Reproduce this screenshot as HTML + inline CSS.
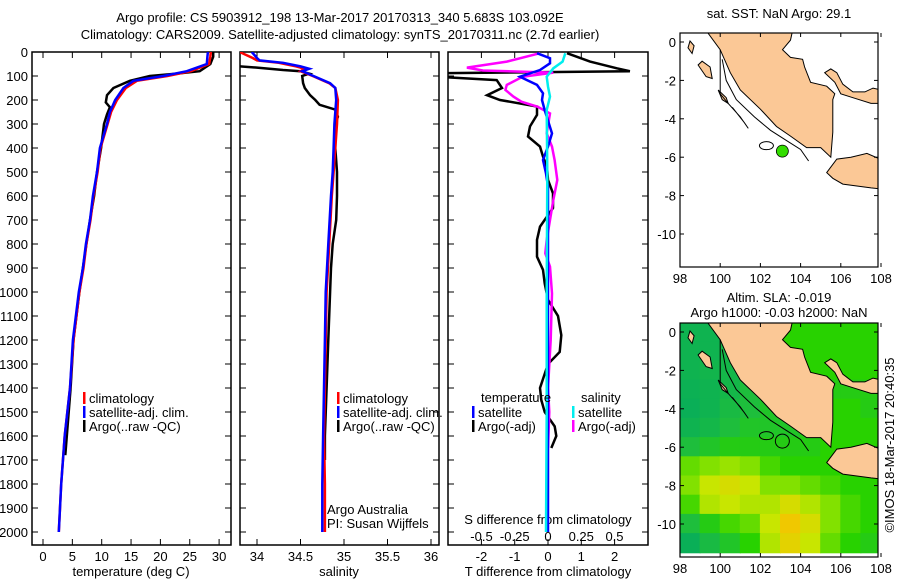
<!DOCTYPE html>
<html><head><meta charset="utf-8"><style>
body{margin:0;background:#fff}
svg{display:block;font-family:"Liberation Sans",sans-serif;font-size:13px}
</style></head><body>
<svg id="c" width="900" height="580" viewBox="0 0 900 580">
<text x="340" y="22" text-anchor="middle">Argo profile: CS 5903912_198 13-Mar-2017 20170313_340 5.683S 103.092E</text>
<text x="340" y="39" text-anchor="middle">Climatology: CARS2009. Satellite-adjusted climatology: synTS_20170311.nc (2.7d earlier)</text>
<g id="g"></g>
<text transform="translate(894,445) rotate(-90)" text-anchor="middle">©IMOS 18-Mar-2017 20:40:35</text>
</svg>
<script>
// ---- temperature panel data ----
const tDepth=[0,20,50,80,100,120,150,200,250,300,400,500,600,700,800,900,1000,1200,1400,1600,1800,2000];
const tSat=[28.1,28.0,27.9,24.5,20.5,15.4,13.7,12.3,11.4,10.9,9.7,9.2,8.5,8.0,7.3,6.8,6.1,5.1,4.6,3.7,3.1,2.7];
const tClim=[28.6,28.5,28.3,25.2,21.2,16.0,14.1,12.6,11.6,11.0,9.8,9.3,8.6,8.1,7.4,6.9,6.2,5.2,4.6,3.7,3.1,2.7];
const argoTDepth=[0,20,50,80,90,100,120,150,180,210,230,260,300,400,500,600,700,800,1000,1200,1400,1680];
const tArgo=[29.0,29.0,28.5,26.7,22.8,18.2,14.8,12.0,10.9,10.7,11.4,10.9,10.4,9.9,9.2,8.7,8.0,7.4,6.2,5.2,4.7,3.8];
const tTicks=[0,5,10,15,20,25,30];
const depthTicks=[0,100,200,300,400,500,600,700,800,900,1000,1100,1200,1300,1400,1500,1600,1700,1800,1900,2000];
// ---- salinity panel data ----
const sDepth=[0,25,35,45,60,70,80,100,130,150,200,300,400,500,600,800,1000,1200,1400,1600,1800,2000];
const sSat=[33.94,34.0,34.03,34.3,34.5,34.6,34.52,34.65,34.84,34.9,34.91,34.89,34.88,34.87,34.85,34.82,34.79,34.78,34.77,34.76,34.75,34.75];
const sClim=[33.8,33.95,34.0,34.25,34.45,34.55,34.5,34.64,34.83,34.9,34.93,34.92,34.9,34.88,34.86,34.83,34.8,34.79,34.78,34.77,34.78,34.78];
const argoSDepth=[60,65,75,80,90,100,130,150,180,200,220,240,270,300,400,500,600,700,800,900,1000,1200,1400,1600,1700];
const sArgo=[33.8,34.0,34.3,34.5,34.6,34.52,34.53,34.55,34.61,34.67,34.72,34.9,34.93,34.9,34.9,34.92,34.92,34.91,34.87,34.85,34.84,34.82,34.8,34.78,34.78];
const sTicks=[34,34.5,35,35.5,36];
// ---- difference panel data ----
const dTArgoDepth=[5,40,68,80,88,105,117,150,180,200,227,262,310,352,394,436,478,533,589,650,728,783,853,908,964,1033,1100,1180,1250,1300,1400,1450,1500,1560,1600,1650];
const dTArgo=[0.57,1.26,2.07,2.46,-3.1,-3.1,-1.54,-1.38,-1.83,-1.44,-0.33,-0.33,-0.54,-0.6,-0.24,-0.15,-0.03,0,0.15,0.15,-0.24,-0.33,-0.33,-0.15,-0.1,0,0.3,0.4,0.35,0,-0.24,-0.2,-0.1,0.2,0.25,0.1];
const dTSatDepth=[5,26,47,75,103,117,137,172,200,242,339,394,450,506,561,800,1200,1600,2000];
const dTSat=[-0.33,0.06,0.06,-0.24,-0.84,-0.63,-0.33,-0.15,-0.18,-0.1,0.12,0,-0.15,-0.06,0,0,0,0,0];
const dSArgoDepth=[5,40,65,77,86,103,137,158,186,207,228,256,339,394,450,533,617,700,783,839,894,1006,1200,1400,1500,1650];
const dSArgo=[-0.06,-0.31,-0.61,-0.49,0.04,-0.19,-0.31,-0.32,-0.26,-0.2,-0.08,0.015,-0.01,0.03,0.05,0.07,0.04,0.015,-0.01,-0.02,0.015,0.03,0.02,0.0,0.01,0.0];
const dSSatDepth=[5,40,68,103,144,186,242,500,1000,1500,2000];
const dSSat=[0.13,0.11,0.04,-0.01,0,0.015,-0.01,-0.005,-0.01,-0.01,-0.015];
const dTTicks=[-2,-1,0,1,2];
const dSTicks=[-0.5,-0.25,0,0.25,0.5];
const dSTickLabels=["-0.5","-0.25","0","0.25","0.5"];
// ---- maps ----
const lonTicks=[98,100,102,104,106,108];
const latTicks=[0,-2,-4,-6,-8,-10];
const argoLon=103.092, argoLat=-5.683;
const slaRows=[
[0.15,0.15,0.2,0.3,0.4,0.45,0.45,0.45,0.45,0.45],
[0.15,0.15,0.2,0.3,0.4,0.45,0.45,0.45,0.45,0.45],
[0.15,0.18,0.2,0.3,0.35,0.4,0.45,0.45,0.45,0.45],
[0.12,0.15,0.2,0.3,0.35,0.35,0.4,0.4,0.4,0.4],
[0.1,0.15,0.25,0.3,0.35,0.35,0.4,0.45,0.45,0.4],
[0.15,0.2,0.3,0.35,0.35,0.35,0.4,0.45,0.45,0.45],
[0.3,0.35,0.4,0.4,0.4,0.4,0.4,0.45,0.45,0.45],
[0.55,0.6,0.65,0.6,0.5,0.45,0.45,0.45,0.45,0.45],
[0.6,0.75,0.8,0.75,0.6,0.6,0.55,0.5,0.45,0.45],
[0.5,0.7,0.75,0.7,0.7,0.8,0.7,0.6,0.5,0.45],
[0.3,0.4,0.5,0.55,0.75,0.9,0.8,0.6,0.5,0.45],
[0.1,0.25,0.35,0.45,0.7,0.85,0.75,0.55,0.45,0.4]];
const sumatra=[[99.3,0.6],[100.0,-0.4],[100.5,-1.6],[101,-2.5],[102,-3.5],[102.8,-4.4],[103.5,-4.9],[104.3,-5.5],[105,-5.5],[105.5,-6],[105.6,-4.7],[105.6,-3],[105.7,-2.7],[105.3,-2.3],[104.5,-2.1],[104.2,-1.3],[104.1,-0.9],[103.5,-0.8],[103.1,-0.4],[103.5,0.1],[103.6,0.6]];
const java=[[105.3,-6.8],[105.8,-6.1],[106.5,-6],[107.3,-5.8],[108.4,-6.3],[108.4,-7.7],[107.5,-7.6],[106.1,-7.4],[105.6,-7.1]];
const bangka=[[105.2,-1.6],[105.5,-1.4],[105.8,-1.6],[106.1,-2.2],[106.6,-2.6],[107.2,-2.6],[107.6,-2.4],[108.4,-2.6],[108.4,-3.2],[107.5,-3.2],[106.6,-2.9],[106.0,-2.7],[105.7,-2.1]];
const nias=[[99.1,-1.0],[99.5,-1.3],[99.6,-1.9],[99.3,-1.8],[98.9,-1.2]];
const simeulue=[[98.5,0.05],[98.7,-0.2],[98.6,-0.6],[98.4,-0.3]];
const siberut=[[99.9,-2.5],[100.3,-2.9],[100.4,-3.2],[100.1,-3.0]];
const shelf1=[[100,-0.4],[100,-2.7],[100.4,-3.2],[101.0,-3.9],[101.4,-4.5],[101.2,-4.2],[100.6,-3.4]];
const shelf2=[[100.1,-0.9],[100.3,-2.0],[100.8,-3.0],[101.7,-3.9],[102.5,-4.6],[103.4,-5.2],[104.0,-5.6],[104.4,-6.2]];

const NS="http://www.w3.org/2000/svg";
const G=document.getElementById('g');
function mk(t,a,p){const e=document.createElementNS(NS,t);for(const k in a)e.setAttribute(k,a[k]);(p||G).appendChild(e);return e;}
function txt(x,y,s,anchor,p){const e=mk('text',{x:x,y:y,'text-anchor':anchor||'start'},p);e.textContent=s;return e;}

const yD=d=>52+d*0.24;
function panel(x0,x1,name){
  const r=mk('rect',{x:x0,y:52,width:x1-x0,height:493,fill:'none',stroke:'#000','stroke-width':1.5});
  
  
  const cp=mk('clipPath',{id:'cp'+name});mk('rect',{x:x0,y:52,width:x1-x0,height:493},cp);
}
function line(xs,ds,fx,color,name,clip,w){
  const pts=xs.map((v,i)=>fx(v).toFixed(1)+','+yD(ds[i]).toFixed(1)).join(' ');
  const e=mk('polyline',{points:pts,fill:'none',stroke:color,'stroke-width':w||2.5,'clip-path':'url(#cp'+clip+')'});
  
  
}
// panel 1
const xT=t=>43+t*5.87;
panel(32,231,'temperature-panel');
depthTicks.forEach(d=>{mk('line',{x1:32,x2:38,y1:yD(d),y2:yD(d),stroke:'#000'});mk('line',{x1:225,x2:231,y1:yD(d),y2:yD(d),stroke:'#000'});
  const t=txt(28,yD(d)+5,String(d),'end');});
tTicks.forEach(v=>{mk('line',{x1:xT(v),x2:xT(v),y1:545,y2:539,stroke:'#000'});mk('line',{x1:xT(v),x2:xT(v),y1:52,y2:58,stroke:'#000'});
  const t=txt(xT(v),561,String(v),'middle');});
txt(131,576,'temperature (deg C)','middle');
line(tArgo,argoTDepth,xT,'#000','argo-temperature-line','temperature-panel');
line(tClim,tDepth,xT,'#f00','climatology-temperature-line','temperature-panel');
line(tSat,tDepth,xT,'#00f','satellite-temperature-line','temperature-panel');
function legend(x,y,items,name){const g=mk('g',{});
  items.forEach((it,i)=>{mk('rect',{x:x,y:y+i*14-6,width:2.5,height:12,fill:it[0]},g);txt(x+6,y+i*14+5,it[1],'start',g);});}
legend(83,398,[['#f00','climatology'],['#00f','satellite-adj. clim.'],['#000','Argo(..raw -QC)']],'temperature-legend');
// panel 2
const xS=s=>257+(s-34)*87;
panel(240,439,'salinity-panel');
depthTicks.forEach(d=>{mk('line',{x1:240,x2:246,y1:yD(d),y2:yD(d),stroke:'#000'});mk('line',{x1:433,x2:439,y1:yD(d),y2:yD(d),stroke:'#000'});});
sTicks.forEach(v=>{mk('line',{x1:xS(v),x2:xS(v),y1:545,y2:539,stroke:'#000'});mk('line',{x1:xS(v),x2:xS(v),y1:52,y2:58,stroke:'#000'});
  const t=txt(xS(v),561,String(v),'middle');});
txt(339,576,'salinity','middle');
line(sArgo,argoSDepth,xS,'#000','argo-salinity-line','salinity-panel');
line(sClim,sDepth,xS,'#f00','climatology-salinity-line','salinity-panel');
line(sSat,sDepth,xS,'#00f','satellite-salinity-line','salinity-panel');
legend(337,398,[['#f00','climatology'],['#00f','satellite-adj. clim.'],['#000','Argo(..raw -QC)']],'salinity-legend');
txt(327,514,'Argo Australia');
txt(327,528,'PI: Susan Wijffels');
// panel 3
const xDT=t=>548+t*33.3, xDS=s=>548+s*133;
panel(448,648,'difference-panel');
depthTicks.forEach(d=>{mk('line',{x1:448,x2:454,y1:yD(d),y2:yD(d),stroke:'#000'});mk('line',{x1:642,x2:648,y1:yD(d),y2:yD(d),stroke:'#000'});});
dTTicks.forEach(v=>{mk('line',{x1:xDT(v),x2:xDT(v),y1:545,y2:539,stroke:'#000'});mk('line',{x1:xDT(v),x2:xDT(v),y1:52,y2:58,stroke:'#000'});
  const t=txt(xDT(v),561,(v<0?'-':'')+Math.abs(v),'middle');});
dSTicks.forEach((v,i)=>{const t=txt(xDS(v),541,dSTickLabels[i],'middle');});
txt(548,524,'S difference from climatology','middle');
txt(548,576,'T difference from climatology','middle');
line(dTArgo,dTArgoDepth,xDT,'#000','argo-t-diff-line','difference-panel');
line(dSArgo,dSArgoDepth,xDS,'#f0f','argo-s-diff-line','difference-panel');
line(dTSat,dTSatDepth,xDT,'#00f','satellite-t-diff-line','difference-panel');
line(dSSat,dSSatDepth,xDS,'#0ee','satellite-s-diff-line','difference-panel');
txt(481,402,'temperature');
txt(581,402,'salinity');
legend(472,412,[['#00f','satellite'],['#000','Argo(-adj)']],'t-diff-legend');
legend(572,412,[['#0ee','satellite'],['#f0f','Argo(-adj)']],'s-diff-legend');
// maps
const mx=l=>680+(l-98)*20.1;
function map(top,lat0,name,heat){
  const my=l=>lat0-l*19.2;
  const cp=mk('clipPath',{id:'cp'+name});mk('rect',{x:680,y:top,width:198,height:234},cp);
  const g=mk('g',{'clip-path':'url(#cp'+name+')'});
  if(heat){
    const col=v=>{const stops=[[0,[0,168,100]],[0.3,[30,190,60]],[0.45,[40,210,0]],[0.6,[130,225,0]],[0.75,[200,230,0]],[0.9,[240,200,0]],[1,[240,170,0]]];
      for(let i=1;i<stops.length;i++){if(v<=stops[i][0]){const a=stops[i-1],b=stops[i],f=(v-a[0])/(b[0]-a[0]);return 'rgb('+a[1].map((c,k)=>Math.round(c+(b[1][k]-c)*f)).join(',')+')';}}return 'rgb(240,170,0)';};
    slaRows.forEach((row,r)=>row.forEach((v,c)=>{const e=mk('rect',{x:mx(98+c)-0.5,y:my(0.5-r)-0.5,width:21.1,height:20.2,fill:col(v)},g);
      }));
  }
  const poly=(pts,nm)=>{const e=mk('polygon',{points:pts.map(p=>mx(p[0]).toFixed(1)+','+my(p[1]).toFixed(1)).join(' '),fill:'#fbc896',stroke:'#000','stroke-width':1},g);};
  poly(sumatra,'sumatra-land');poly(java,'java-land');poly(bangka,'bangka-land');
  poly(nias,'island');poly(simeulue,'island');poly(siberut,'island');
  [shelf1,shelf2].forEach(s=>mk('polyline',{points:s.map(p=>mx(p[0]).toFixed(1)+','+my(p[1]).toFixed(1)).join(' '),fill:'none',stroke:'#000','stroke-width':1},g));
  mk('ellipse',{cx:mx(102.3),cy:my(-5.4),rx:7,ry:4,fill:'none',stroke:'#000'},g);
  const dot=mk('circle',{cx:mx(argoLon),cy:my(argoLat),r:heat?7:6,fill:heat?'none':'#33dd00',stroke:'#000','stroke-width':heat?1:0.8});
  
  mk('rect',{x:680,y:top,width:198,height:234,fill:'none',stroke:'#000','stroke-width':1.2});
  latTicks.forEach(l=>{mk('line',{x1:680,x2:684,y1:my(l),y2:my(l),stroke:'#000'});mk('line',{x1:874,x2:878,y1:my(l),y2:my(l),stroke:'#000'});
    const t=txt(676,my(l)+5,String(l),'end');});
  lonTicks.forEach(l=>{mk('line',{x1:mx(l),x2:mx(l),y1:top+234,y2:top+230,stroke:'#000'});mk('line',{x1:mx(l),x2:mx(l),y1:top,y2:top+4,stroke:'#000'});
    const t=txt(mx(l),top+250,String(l),'middle');});
}
map(33,42,'sst-map',false);
map(323,332,'sla-map',true);
txt(779,18,'sat. SST: NaN Argo: 29.1','middle');
txt(779,302,'Altim. SLA: -0.019','middle');
txt(779,317,'Argo h1000: -0.03 h2000: NaN','middle');
</script>
</body></html>
